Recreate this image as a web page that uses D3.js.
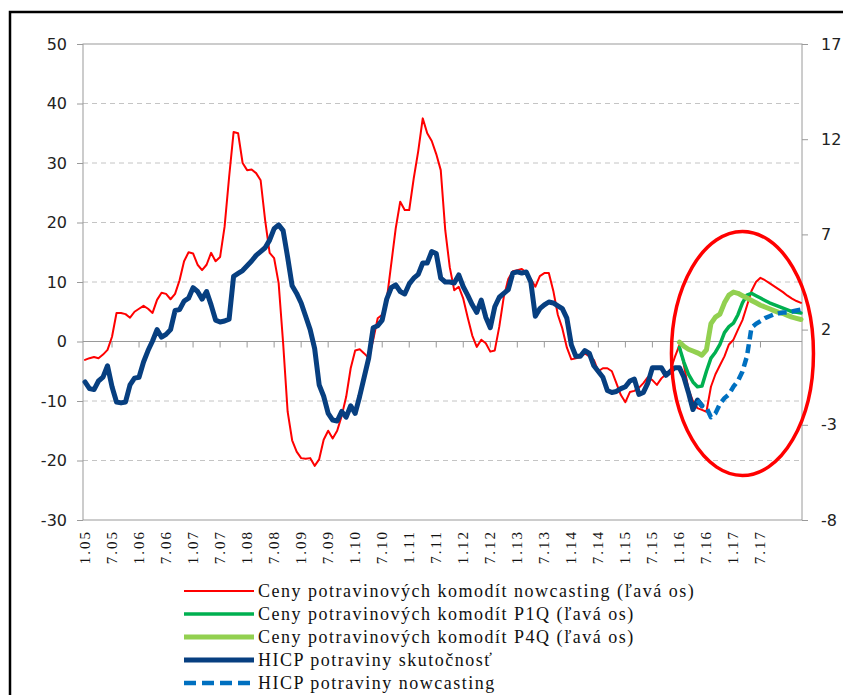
<!DOCTYPE html>
<html>
<head>
<meta charset="utf-8">
<script src="https://cdn.jsdelivr.net/npm/d3@7"></script>
<style>
  body { margin: 0; background: #fff; }
  svg { display: block; }
</style>
</head>
<body>
<div id="chart"></div>
<script>
// monthly values, Jan 2005 = index 0
const xLabels = ["1.05","7.05","1.06","7.06","1.07","7.07","1.08","7.08","1.09","7.09",
                 "1.10","7.10","1.11","7.11","1.12","7.12","1.13","7.13","1.14","7.14",
                 "1.15","7.15","1.16","7.16","1.17","7.17"];
const leftTicks = [-30, -20, -10, 0, 10, 20, 30, 40, 50];
const rightTicks = [-8, -3, 2, 7, 12, 17];

// Ceny potravinových komodít nowcasting (left axis)
const commodity = [-3.1,-2.8,-2.6,-2.8,-2.2,-1.4,0.8,4.8,4.8,4.6,
  4.0,5.0,5.5,6.0,5.5,4.8,7.0,8.2,8.0,7.1,
  8.0,10.3,13.5,15.0,14.8,12.9,12.0,12.9,14.9,13.5,
  14.2,19.3,27.6,35.2,35.0,30.0,28.8,28.9,28.3,27.1,
  20.4,14.9,14.0,9.8,-0.3,-11.8,-16.6,-18.5,-19.6,-19.7,
  -19.6,-20.9,-19.8,-16.5,-15.0,-16.3,-15.0,-12.5,-9.3,-4.5,
  -1.5,-1.3,-2.0,-2.8,0.3,3.9,4.5,7.0,13.0,19.0,
  23.5,22.1,22.1,27.4,32.0,37.5,35.0,33.7,31.5,28.8,
  18.7,12.5,8.6,9.2,7.2,4.0,1.0,-0.9,0.3,-0.3,
  -1.7,-1.5,2.5,7.5,10.5,11.8,12.0,12.2,11.6,10.5,
  9.2,11.0,11.5,11.5,8.5,4.5,2.2,-1.0,-3.0,-2.8,
  -2.6,-2.0,-2.5,-3.1,-5.0,-4.5,-4.5,-5.0,-7.0,-9.0,
  -10.2,-8.5,-8.3,-7.8,-7.0,-6.0,-6.5,-7.3,-6.2,-5.5,
  -4.8,-2.6,-0.6,-4.0,-8.0,-10.0,-11.2,-11.5,-11.8,-7.6,
  -5.5,-4.0,-2.5,-0.5,0.3,2.0,3.6,6.0,8.5,10.0,
  10.7,10.3,9.8,9.3,8.8,8.3,7.7,7.2,6.8,6.5];

// P1Q and P4Q forecasts (left axis), start at index 132
const fcStart = 132;
const p1q = [-1.0,-3.5,-5.5,-6.8,-7.6,-7.5,-5.0,-2.8,-1.8,-0.5,1.5,2.5,3.1,4.5,
  6.5,7.8,8.1,7.7,7.3,6.9,6.5,6.2,5.9,5.6,5.3,5.0,4.9,4.8];
const p4q = [-0.1,-0.8,-1.3,-1.6,-1.9,-2.3,-1.4,3.0,4.1,4.6,6.5,7.8,8.3,8.1,
  7.7,7.3,6.9,6.5,6.1,5.8,5.5,5.2,4.9,4.7,4.4,4.1,3.9,3.7];

// HICP potraviny skutočnosť (right axis), from index 0
const hicp = [-0.75,-1.1,-1.15,-0.7,-0.5,0.1,-1.0,-1.8,-1.85,-1.8,
  -0.9,-0.55,-0.5,0.3,0.9,1.4,2.0,1.6,1.75,2.0,
  3.0,3.05,3.5,3.65,4.2,4.0,3.6,4.0,3.3,2.5,
  2.4,2.45,2.55,4.8,4.95,5.1,5.35,5.6,5.9,6.1,
  6.3,6.7,7.3,7.5,7.2,5.8,4.3,3.9,3.4,2.7,
  2.0,1.0,-0.9,-1.5,-2.4,-2.75,-2.8,-2.3,-2.6,-2.0,
  -2.4,-1.5,-0.5,0.5,2.1,2.2,2.5,3.6,4.2,4.35,
  4.0,3.87,4.4,4.7,4.9,5.5,5.5,6.1,6.0,4.7,
  4.5,4.5,4.45,4.87,4.25,3.8,3.3,2.9,3.55,2.65,
  2.1,3.2,3.7,3.9,4.1,4.97,5.03,4.97,5.03,4.5,
  2.7,3.1,3.3,3.45,3.4,3.25,3.1,2.6,1.2,0.6,
  0.6,0.9,0.75,0.1,-0.2,-0.5,-1.2,-1.3,-1.25,-1.1,
  -1.0,-0.7,-0.6,-1.4,-1.3,-0.8,0.0,0.0,0.0,-0.4,
  -0.2,0.0,0.0,-0.5,-1.3,-2.2,-1.7,-2.0];

// HICP potraviny nowcasting (right axis), start at index 136
const nowStart = 136;
const hicpNow = [-1.7,-2.0,-2.1,-2.6,-2.4,-1.9,-1.6,-1.4,-1.0,-0.7,-0.2,0.6,
  2.1,2.3,2.45,2.6,2.7,2.8,2.85,2.9,2.9,2.95,3.0,3.05];

const legendItems = [
  { name: "Ceny potravinových komodít nowcasting (ľavá os)", color: "#ff0000", width: 2 },
  { name: "Ceny potravinových komodít P1Q (ľavá os)", color: "#00b050", width: 3.5 },
  { name: "Ceny potravinových komodít P4Q (ľavá os)", color: "#92d050", width: 5 },
  { name: "HICP potraviny skutočnosť", color: "#073f80", width: 5 },
  { name: "HICP potraviny nowcasting", color: "#0070c0", width: 4.5, dash: "9,5" }
];

const W = 843, H = 695;
const plot = { left: 83, right: 802, top: 44, bottom: 520 };

const svg = d3.select("#chart").append("svg")
    .attr("width", W)
    .attr("height", H);

// outer frame (only top and left edges are inside the picture)
svg.append("path")
    .attr("d", `M10,${H} L10,12 L${W},12`)
    .attr("fill", "none")
    .attr("stroke", "#000")
    .attr("stroke-width", 2.5);

const x = d3.scaleLinear().domain([0, commodity.length - 1]).range([85, 801]);
const yL = d3.scaleLinear().domain([-30, 50]).range([plot.bottom, plot.top]);
const yR = d3.scaleLinear().domain([-8, 17]).range([plot.bottom, plot.top]);

// gridlines
svg.append("g").selectAll("line")
    .data(leftTicks.filter(d => d !== 0 && d !== 50 && d !== -30))
  .join("line")
    .attr("x1", plot.left).attr("x2", plot.right)
    .attr("y1", d => yL(d)).attr("y2", d => yL(d))
    .attr("stroke", "#c4c4c4")
    .attr("stroke-dasharray", "5,4");

// plot border
svg.append("rect")
    .attr("x", plot.left).attr("y", plot.top)
    .attr("width", plot.right - plot.left)
    .attr("height", plot.bottom - plot.top)
    .attr("fill", "none")
    .attr("stroke", "#9a9a9a");

// zero line with category ticks
svg.append("line")
    .attr("x1", plot.left).attr("x2", plot.right)
    .attr("y1", yL(0)).attr("y2", yL(0))
    .attr("stroke", "#9a9a9a");

const tickIdx = xLabels.map((d, i) => i * 6);
svg.append("g").selectAll("line")
    .data(tickIdx.slice(1))
  .join("line")
    .attr("x1", d => x(d)).attr("x2", d => x(d))
    .attr("y1", yL(0)).attr("y2", yL(0) + 6)
    .attr("stroke", "#9a9a9a");

const fmt = d => String(d);

// left axis
const leftAxis = d3.axisLeft(yL).tickValues(leftTicks).tickFormat(fmt).tickSize(6).tickPadding(10);
const gl = svg.append("g")
    .attr("transform", `translate(${plot.left},0)`)
    .call(leftAxis);
gl.select(".domain").remove();
gl.selectAll(".tick line").attr("stroke", "#9a9a9a");
gl.selectAll(".tick text")
    .attr("font-family", "DejaVu Sans")
    .attr("font-size", 16)
    .attr("fill", "#222");

// right axis
const rightAxis = d3.axisRight(yR).tickValues(rightTicks).tickFormat(fmt).tickSize(6).tickPadding(13);
const gr = svg.append("g")
    .attr("transform", `translate(${plot.right},0)`)
    .call(rightAxis);
gr.select(".domain").remove();
gr.selectAll(".tick line").attr("stroke", "#9a9a9a");
gr.selectAll(".tick text")
    .attr("font-family", "DejaVu Sans")
    .attr("font-size", 16)
    .attr("fill", "#222");

// category labels, rotated
svg.append("g").selectAll("text")
    .data(xLabels)
  .join("text")
    .attr("transform", (d, i) => `translate(${x(i * 6) + 5},530) rotate(-90)`)
    .attr("text-anchor", "end")
    .attr("font-family", "Liberation Serif")
    .attr("font-size", 15)
    .attr("letter-spacing", 2)
    .attr("fill", "#111")
    .text(d => d);

// lines
const lineL = d3.line().defined(d => d.v != null).x(d => x(d.i)).y(d => yL(d.v));
const lineR = d3.line().defined(d => d.v != null).x(d => x(d.i)).y(d => yR(d.v));
const pts = (arr, start) => arr.map((v, k) => ({ i: start + k, v }));

const series = [
  { data: pts(commodity, 0), line: lineL, style: legendItems[0] },
  { data: pts(p1q, fcStart), line: lineL, style: legendItems[1] },
  { data: pts(p4q, fcStart), line: lineL, style: legendItems[2] },
  { data: pts(hicp, 0), line: lineR, style: legendItems[3] },
  { data: pts(hicpNow, nowStart), line: lineR, style: legendItems[4] }
];

svg.append("g").selectAll("path")
    .data(series)
  .join("path")
    .attr("d", s => s.line(s.data))
    .attr("fill", "none")
    .attr("stroke", s => s.style.color)
    .attr("stroke-width", s => s.style.width)
    .attr("stroke-dasharray", s => s.style.dash || null)
    .attr("stroke-linejoin", "round")
    .attr("stroke-linecap", s => s.style.dash ? "butt" : "round");

// highlight ellipse around the forecast period
svg.append("ellipse")
    .attr("cx", x(146))
    .attr("cy", yL(-2))
    .attr("rx", 71)
    .attr("ry", 122)
    .attr("fill", "none")
    .attr("stroke", "#ff0000")
    .attr("stroke-width", 3.5);

// legend
const lg = svg.append("g");
const rowY = i => 591 + i * 23;
lg.selectAll("line")
    .data(legendItems)
  .join("line")
    .attr("x1", 184).attr("x2", 254)
    .attr("y1", (d, i) => rowY(i)).attr("y2", (d, i) => rowY(i))
    .attr("stroke", d => d.color)
    .attr("stroke-width", d => d.width)
    .attr("stroke-dasharray", d => d.dash ? "12,6" : null);

lg.selectAll("text")
    .data(legendItems)
  .join("text")
    .attr("x", 258)
    .attr("y", (d, i) => rowY(i) + 6)
    .attr("font-family", "Liberation Serif")
    .attr("font-size", 18)
    .attr("letter-spacing", 1.5)
    .attr("fill", "#111")
    .text(d => d.name);
</script>
</body>
</html>
